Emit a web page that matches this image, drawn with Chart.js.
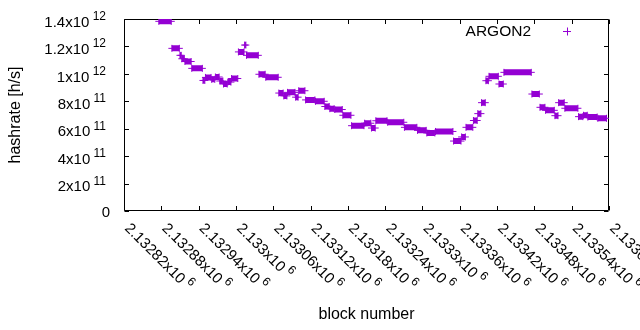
<!DOCTYPE html>
<html><head><meta charset="utf-8">
<script src="https://cdn.jsdelivr.net/npm/chart.js@4"></script>
<style>html,body{margin:0;padding:0;background:#fff}canvas{display:block}</style>
</head><body>
<canvas id="c" width="640" height="330"></canvas>
<script>
const seriesName = 'ARGON2';
// runs of blocks sharing one hashrate value
const segStart = [2132876,2132897,2132910,2132913,2132918,2132929,2132947,2132951,2132961,2132967,2132974,2132980,2132987,2132993,2133004,2133014,2133017,2133037,2133048,2133069,2133077,2133083,2133096,2133101,2133112,2133128,2133143,2133151,2133159,2133172,2133186,2133207,2133218,2133225,2133244,2133271,2133292,2133307,2133321,2133350,2133363,2133370,2133382,2133389,2133395,2133402,2133407,2133423,2133431,2133476,2133489,2133498,2133513,2133519,2133529,2133551,2133559,2133566,2133582];
const segEnd   = [2132896,2132909,2132912,2132917,2132928,2132946,2132950,2132960,2132966,2132973,2132979,2132986,2132992,2133003,2133013,2133016,2133036,2133047,2133068,2133076,2133082,2133095,2133100,2133111,2133127,2133142,2133150,2133158,2133171,2133185,2133206,2133217,2133224,2133243,2133270,2133291,2133306,2133320,2133349,2133362,2133369,2133381,2133388,2133394,2133401,2133406,2133422,2133430,2133475,2133488,2133497,2133512,2133518,2133528,2133550,2133558,2133565,2133581,2133596];
const segValue = [1.383e12,1.186e12,1.135e12,1.11e12,1.09e12,1.04e12,9.52e11,9.74e11,9.6e11,9.77e11,9.48e11,9.26e11,9.4e11,9.66e11,1.16e12,1.21e12,1.135e12,9.97e11,9.75e11,8.6e11,8.39e11,8.65e11,8.3e11,8.77e11,8.1e11,8.0e11,7.62e11,7.46e11,7.4e11,6.98e11,6.22e11,6.4e11,6.05e11,6.58e11,6.47e11,6.1e11,5.88e11,5.69e11,5.8e11,5.1e11,5.4e11,6.1e11,6.6e11,7.1e11,7.9e11,9.5e11,9.82e11,9.26e11,1.011e12,8.53e11,7.56e11,7.34e11,6.95e11,7.9e11,7.49e11,6.88e11,6.98e11,6.85e11,6.76e11];

const xMin = 2132820, xMax = 2133600;
const xTickValues = [2132820,2132880,2132940,2133000,2133060,2133120,2133180,2133240,2133300,2133360,2133420,2133480,2133540,2133600];
const xTickLabels = ['2.13282x10','2.13288x10','2.13294x10','2.133x10','2.13306x10','2.13312x10','2.13318x10','2.13324x10','2.1333x10','2.13336x10','2.13342x10','2.13348x10','2.13354x10','2.1336x10'];
const xTickExps = ['6','6','6','6','6','6','6','6','6','6','6','6','6','6'];
const yMin = 0, yMax = 1.4e12;
const yTickValues = [0,2e11,4e11,6e11,8e11,1e12,1.2e12,1.4e12];
const yTickLabels = ['0','2x10','4x10','6x10','8x10','1x10','1.2x10','1.4x10'];
const yTickExps = ['','11','11','11','11','12','12','12'];
const xTitle = 'block number';
const yTitle = 'hashrate [h/s]';

const COLOR = '#9400d3';
const FONT = '"Liberation Sans", Arial, sans-serif';
const TICK = 15, SUP = 12, TITLE = 16, KEY = 15.5;

const pts = [];
for (let i = 0; i < segStart.length; i++) {
  pts.push({x: segStart[i], y: segValue[i]});
  pts.push({x: segEnd[i], y: segValue[i]});
  pts.push({x: segEnd[i] + 0.5, y: null});
}

const frame = {
  id: 'frame',
  beforeDatasetsDraw(chart) {
    const {ctx, chartArea: a, scales: {x, y}} = chart;
    ctx.save();
    ctx.strokeStyle = '#000';
    ctx.lineWidth = 1;
    const L = Math.round(a.left) + 0.5, R = Math.round(a.right) - 0.5;
    const T = Math.round(a.top) + 0.5, B = Math.round(a.bottom) - 0.5;
    ctx.beginPath();
    ctx.rect(L, T, R - L, B - T);
    for (const v of xTickValues) {
      const px = Math.round(x.getPixelForValue(v)) + 0.5;
      ctx.moveTo(px, B); ctx.lineTo(px, B - 4.5);
      ctx.moveTo(px, T); ctx.lineTo(px, T + 4.5);
    }
    for (const v of yTickValues) {
      const py = Math.round(y.getPixelForValue(v)) + 0.5;
      ctx.moveTo(L, py); ctx.lineTo(L + 4.5, py);
      ctx.moveTo(R, py); ctx.lineTo(R - 4.5, py);
    }
    ctx.stroke();
    ctx.restore();
  },
  afterDraw(chart) {
    const {ctx, chartArea: a, scales: {x, y}} = chart;
    ctx.save();
    ctx.fillStyle = '#000';
    // y tick labels
    yTickValues.forEach((v, i) => {
      const py = y.getPixelForValue(v);
      ctx.textAlign = 'right';
      ctx.textBaseline = 'alphabetic';
      if (yTickExps[i]) {
        ctx.font = SUP + 'px ' + FONT;
        ctx.fillText(yTickExps[i], 106, py + 7.7 - 6.7);
        const w = ctx.measureText(yTickExps[i]).width;
        ctx.font = TICK + 'px ' + FONT;
        ctx.fillText(yTickLabels[i], 106 - w - 3.3, py + 7.7);
      } else {
        ctx.font = TICK + 'px ' + FONT;
        ctx.fillText(yTickLabels[i], 110, py + 5.5);
      }
    });
    // x tick labels, rotated
    xTickValues.forEach((v, i) => {
      const px = x.getPixelForValue(v);
      ctx.save();
      ctx.translate(px, 229);
      ctx.rotate(Math.PI / 4);
      ctx.textAlign = 'left';
      ctx.textBaseline = 'alphabetic';
      ctx.font = TICK + 'px ' + FONT;
      ctx.fillText(xTickLabels[i], 0, 0);
      const w = ctx.measureText(xTickLabels[i]).width;
      ctx.font = SUP + 'px ' + FONT;
      ctx.fillText(xTickExps[i], w + 3.3, -6.7);
      ctx.restore();
    });
    // axis titles
    ctx.font = TITLE + 'px ' + FONT;
    ctx.textAlign = 'center';
    ctx.textBaseline = 'middle';
    ctx.fillText(xTitle, (a.left + a.right) / 2, 315);
    ctx.save();
    ctx.translate(16, (a.top + a.bottom) / 2);
    ctx.rotate(-Math.PI / 2);
    ctx.fillText(yTitle, 0, 0);
    ctx.restore();
    // key
    ctx.font = KEY + 'px ' + FONT;
    ctx.textAlign = 'right';
    ctx.textBaseline = 'alphabetic';
    ctx.fillText(seriesName, 531, 36);
    ctx.strokeStyle = COLOR;
    ctx.lineWidth = 1;
    ctx.beginPath();
    ctx.moveTo(563, 31.5); ctx.lineTo(571, 31.5);
    ctx.moveTo(567.5, 27.5); ctx.lineTo(567.5, 35.5);
    ctx.stroke();
    ctx.restore();
  }
};

new Chart(document.getElementById('c'), {
  type: 'scatter',
  data: {
    datasets: [{
      label: seriesName,
      data: pts,
      showLine: true,
      spanGaps: false,
      borderColor: COLOR,
      backgroundColor: COLOR,
      borderWidth: 6,
      borderCapStyle: 'butt',
      tension: 0,
      pointStyle: 'cross',
      pointRadius: 3.5,
      pointHoverRadius: 3.5,
      pointBorderWidth: 1,
      pointBorderColor: COLOR
    }]
  },
  options: {
    responsive: false,
    devicePixelRatio: 1,
    animation: false,
    events: [],
    layout: {padding: {left: 0, right: 31, top: 19, bottom: 0}},
    plugins: {legend: {display: false}, tooltip: {enabled: false}},
    scales: {
      x: {
        type: 'linear', min: xMin, max: xMax,
        ticks: {display: false}, grid: {display: false}, border: {display: false},
        afterFit(s) { s.height = 119; }
      },
      y: {
        type: 'linear', min: yMin, max: yMax,
        ticks: {display: false}, grid: {display: false}, border: {display: false},
        afterFit(s) { s.width = 124; }
      }
    }
  },
  plugins: [frame]
});
</script>
</body></html>
